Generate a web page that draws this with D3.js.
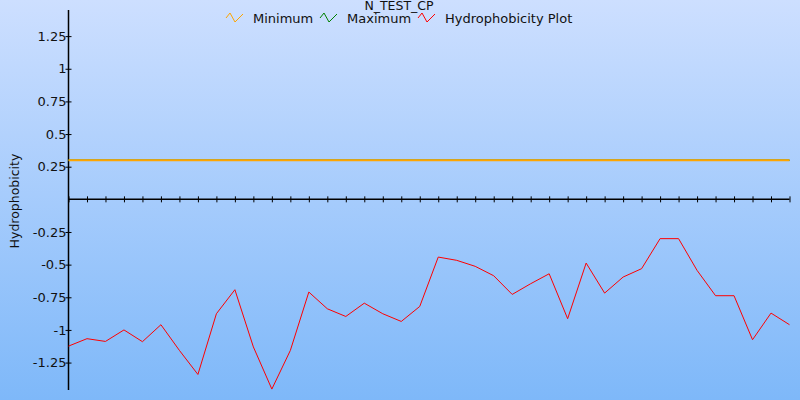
<!DOCTYPE html>
<html><head><meta charset="utf-8">
<script src="https://cdn.jsdelivr.net/npm/d3@7"></script>
<style>
html,body{margin:0;padding:0;}
svg{display:block;font-family:"DejaVu Sans",Verdana,sans-serif;}
</style></head>
<body>
<svg id="chart" width="800" height="400"></svg>
<script>
const title = "N_TEST_CP";
const yLabel = "Hydrophobicity";
const seriesNames = ["Minimum", "Maximum", "Hydrophobicity Plot"];
const seriesColors = ["#ffa500", "#008000", "#ff0000"];
const hydrophobicity = [-1.124, -1.067, -1.088, -1.0, -1.09, -0.96, -1.157, -1.341, -0.876, -0.692,
  -1.13, -1.453, -1.157, -0.71, -0.838, -0.897, -0.795, -0.876, -0.935, -0.82,
  -0.442, -0.467, -0.513, -0.585, -0.728, -0.646, -0.57, -0.914, -0.488, -0.718,
  -0.595, -0.531, -0.301, -0.301, -0.544, -0.738, -0.738, -1.075, -0.871, -0.96];
const minimumValue = 0.3;
const maximumValue = 0.3;
const yTicks = [-1.25, -1, -0.75, -0.5, -0.25, 0.25, 0.5, 0.75, 1, 1.25];
const yTickLabels = ["-1.25", "-1", "-0.75", "-0.5", "-0.25", "0.25", "0.5", "0.75", "1", "1.25"];

const svg = d3.select("#chart");
const W = 800, H = 400;
const defs = svg.append("defs");
const grad = defs.append("linearGradient").attr("id","bg").attr("x1",0).attr("y1",0).attr("x2",0).attr("y2",1);
grad.append("stop").attr("offset","0%").attr("stop-color","#cddfff");
grad.append("stop").attr("offset","100%").attr("stop-color","#7eb8f9");
svg.append("rect").attr("width",W).attr("height",H).attr("fill","url(#bg)");

const idx = d3.range(hydrophobicity.length);
const x = d3.scaleLinear().domain([0, hydrophobicity.length - 1]).range([68.5, 789.5]);
const y = d3.scaleLinear().domain([-1.46, 1.45]).range([390, 10]);

// y axis
const yAxis = d3.axisLeft(y).tickValues(yTicks).tickFormat((d,i)=>yTickLabels[i]).tickSize(0).tickPadding(4);
const gy = svg.append("g").attr("transform","translate(68.5,0)").call(yAxis);
gy.select(".domain").remove();
gy.selectAll("text").attr("font-size","13px").attr("fill","#111").attr("font-family","DejaVu Sans, sans-serif").attr("x",-2);
gy.selectAll(".tick").append("line").attr("x1",-3).attr("x2",3).attr("stroke","#000");
svg.append("line").attr("x1",68.5).attr("x2",68.5).attr("y1",10).attr("y2",390).attr("stroke","#000").attr("stroke-width",1.5);

// x axis at zero
const xAxis = d3.axisBottom(x).tickValues(idx).tickFormat("").tickSize(0);
const gx = svg.append("g").attr("transform",`translate(0,${y(0)})`).call(xAxis);
gx.select(".domain").remove();
gx.selectAll(".tick").append("line").attr("y1",-3).attr("y2",3).attr("stroke","#000");
svg.append("line").attr("x1",68.5).attr("x2",789.5).attr("y1",y(0)).attr("y2",y(0)).attr("stroke","#000").attr("stroke-width",1.5);

// y label
svg.append("text").attr("transform","translate(19,201) rotate(-90)").attr("text-anchor","middle")
  .attr("font-size","12.5px").attr("fill","#111").text(yLabel);

// lines
const line = d3.line().x((d,i)=>x(i)).y(d=>y(d));
svg.append("path").datum(idx.map(()=>maximumValue)).attr("d",line).attr("fill","none").attr("stroke",seriesColors[1]).attr("stroke-width",1.5);
svg.append("path").datum(idx.map(()=>minimumValue)).attr("d",line).attr("fill","none").attr("stroke",seriesColors[0]).attr("stroke-width",2);
svg.append("path").datum(hydrophobicity).attr("d",line).attr("fill","none").attr("stroke",seriesColors[2]).attr("stroke-width",1);

// title
svg.append("text").attr("x",399).attr("y",9.5).attr("text-anchor","middle").attr("font-size","12.5px").attr("fill","#111").text(title);

// legend
const legendX = [226, 320, 418];
const lg = svg.append("g");
seriesNames.forEach((name,i)=>{
  const g = lg.append("g").attr("transform",`translate(${legendX[i]},13)`);
  g.append("path").attr("d","M0,5L4,0L9,9L17,1").attr("fill","none").attr("stroke",seriesColors[i]).attr("stroke-width",1);
  g.append("text").attr("x",27).attr("y",10).attr("font-size","13px").attr("fill","#111").text(name);
});
</script>
</body></html>
